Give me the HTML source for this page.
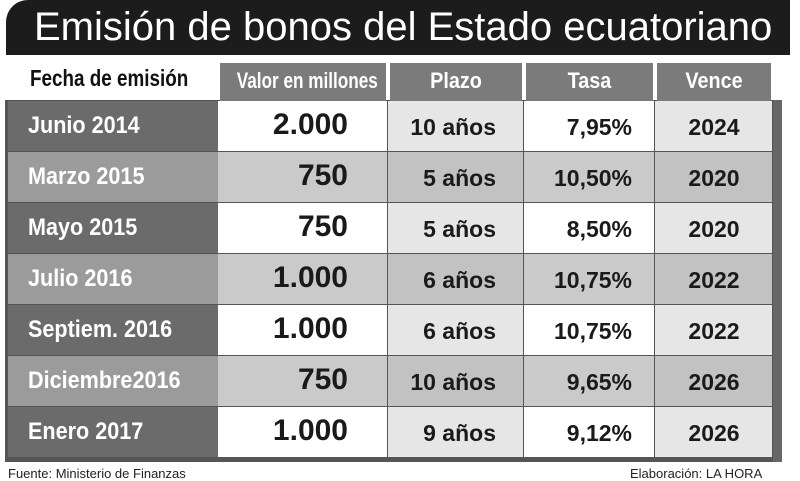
<!DOCTYPE html>
<html><head><meta charset="utf-8"><style>
body{margin:0;width:800px;height:480px;background:#fff;position:relative;overflow:hidden;font-family:"Liberation Sans","DejaVu Sans",sans-serif;font-weight:bold}
div{position:absolute;box-sizing:border-box}
.t{white-space:nowrap;transform-origin:left center}
</style></head><body>
<div style="left:6px;top:0;width:784px;height:55px;background:#1c1c1c;border-radius:22px 0 0 0"></div>
<div class="t" style="left:34px;top:3px;font-size:40px;color:#fff;font-weight:normal;line-height:48px;transform:scaleX(1.0)">Emisión de bonos del Estado ecuatoriano</div>
<div style="left:5px;top:100px;width:777px;height:362px;background:#555"></div>
<div class="t" style="left:30px;top:63px;font-size:23px;line-height:30px;color:#111;transform:scaleX(0.82)">Fecha de emisión</div>
<script>
var cols=[8,218,388,524,655,773];
var heads=["Valor en millones","Plazo","Tasa","Vence"];
var b=document.body;
function el(s,t){var d=document.createElement('div');d.style.cssText=s;if(t)d.innerHTML=t;b.appendChild(d);return d;}
for(var i=0;i<4;i++){
 el('left:'+(cols[i+1]+2)+'px;top:63px;width:'+(cols[i+2]-cols[i+1]-4)+'px;height:38px;background:#7b7b7b;');
 el('left:'+cols[i+1]+'px;top:66px;width:'+(cols[i+2]-cols[i+1])+'px;text-align:center;color:#fff;font-size:22px;line-height:30px;white-space:nowrap;transform:scaleX('+(i==0?0.78:0.9)+')',heads[i]);
}
var rows=[["Junio 2014","2.000","10 años","7,95%","2024"],["Marzo 2015","750","5 años","10,50%","2020"],["Mayo 2015","750","5 años","8,50%","2020"],["Julio 2016","1.000","6 años","10,75%","2022"],["Septiem. 2016","1.000","6 años","10,75%","2022"],["Diciembre2016","750","10 años","9,65%","2026"],["Enero 2017","1.000","9 años","9,12%","2026"]];
var y0=101,h=51;
for(var r=0;r<7;r++){
 var y=y0+r*h, odd=r%2==0;
 var bgs=odd?["#6b6b6b","#fff","#e6e6e6","#fff","#e6e6e6"]:["#9b9b9b","#cacaca","#c2c2c2","#cacaca","#c2c2c2"];
 for(var c=0;c<5;c++){
  el('left:'+cols[c]+'px;top:'+y+'px;width:'+(cols[c+1]-cols[c]-(c==0?0:1))+'px;height:'+(h-1)+'px;background:'+bgs[c]);
 }
 el('left:28px;top:'+y+'px;font-size:24px;line-height:50px;color:#fff;white-space:nowrap;transform-origin:left center;transform:scaleX(0.9)',rows[r][0]);
 el('left:'+cols[1]+'px;top:'+y+'px;width:130px;text-align:right;font-size:30px;line-height:48px;color:#1a1a1a',rows[r][1]);
 el('left:'+cols[2]+'px;top:'+y+'px;width:108px;text-align:right;font-size:23px;line-height:52px;color:#1a1a1a;white-space:nowrap',rows[r][2]);
 el('left:'+cols[3]+'px;top:'+y+'px;width:108px;text-align:right;font-size:23px;line-height:52px;color:#1a1a1a',rows[r][3]);
 el('left:'+cols[4]+'px;top:'+y+'px;width:'+(cols[5]-cols[4])+'px;text-align:center;font-size:23px;line-height:52px;color:#1a1a1a',rows[r][4]);
}
</script>
<div style="left:773px;top:100px;width:9px;height:362px;background:#666"></div>
<div class="t" style="left:8px;top:466px;font-size:13px;font-weight:normal;color:#222">Fuente: Ministerio de Finanzas</div>
<div class="t" style="left:630px;top:466px;font-size:13px;font-weight:normal;color:#222">Elaboración: LA HORA</div>
</body></html>
